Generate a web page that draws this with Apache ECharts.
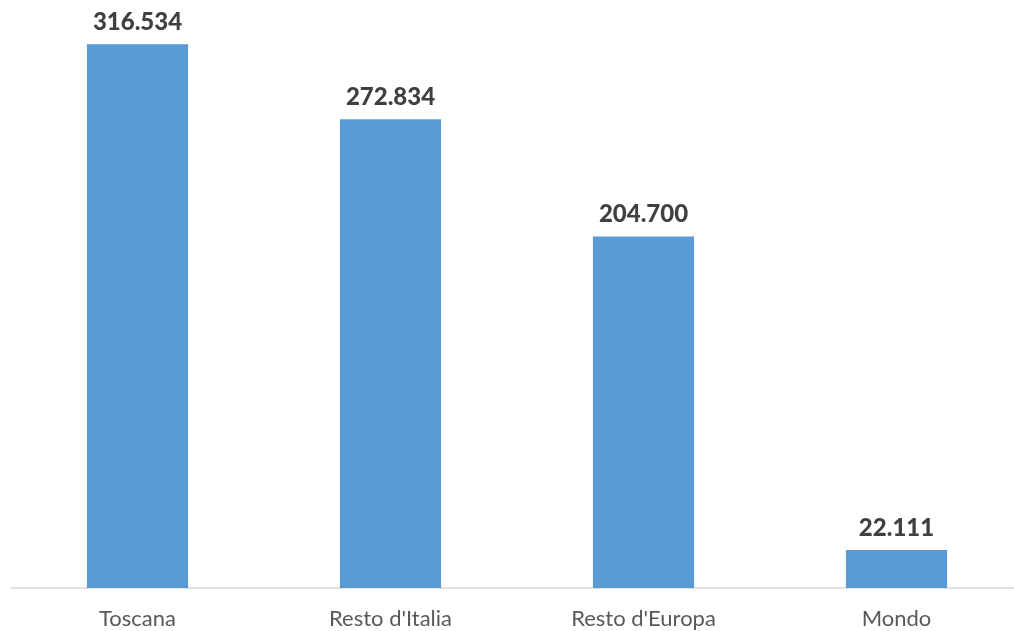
<!DOCTYPE html>
<html>
<head>
<meta charset="utf-8">
<script src="https://cdn.jsdelivr.net/npm/echarts@6/dist/echarts.min.js"></script>
<style>
  html, body { margin: 0; padding: 0; background: #fff; }
  #chart { width: 1014px; height: 631px; }
</style>
</head>
<body>
<div id="chart"></div>
<script>
// categories and values
const categories = ['Toscana', "Resto d'Italia", "Resto d'Europa", 'Mondo'];
const values = [316534, 272834, 204700, 22111];

// Italian thousands separator
function fmt(v) {
  return String(v).replace(/\B(?=(\d{3})+(?!\d))/g, '.');
}

const chart = echarts.init(document.getElementById('chart'));
chart.setOption({
  animation: false,
  grid: {
    left: 11,
    right: -9,
    top: 4,
    bottom: 43,
    outerBoundsMode: 'none'
  },
  xAxis: {
    type: 'category',
    data: categories,
    axisTick: { show: false },
    axisLine: { lineStyle: { color: '#d9d9d9', width: 1.5 } },
    axisLabel: {
      color: '#595959',
      fontFamily: 'Lato',
      fontSize: 22,
      margin: 20
    }
  },
  yAxis: {
    type: 'value',
    min: 0,
    max: 340000,
    show: false,
    splitLine: { show: false }
  },
  series: [
    {
      type: 'bar',
      data: values,
      barWidth: '40%',
      itemStyle: { color: '#5b9bd5' },
      label: {
        show: true,
        position: 'top',
        distance: 10,
        color: '#404040',
        fontFamily: 'Lato',
        fontWeight: 900,
        fontSize: 24,
        formatter: p => fmt(p.value)
      }
    }
  ]
});
</script>
</body>
</html>
